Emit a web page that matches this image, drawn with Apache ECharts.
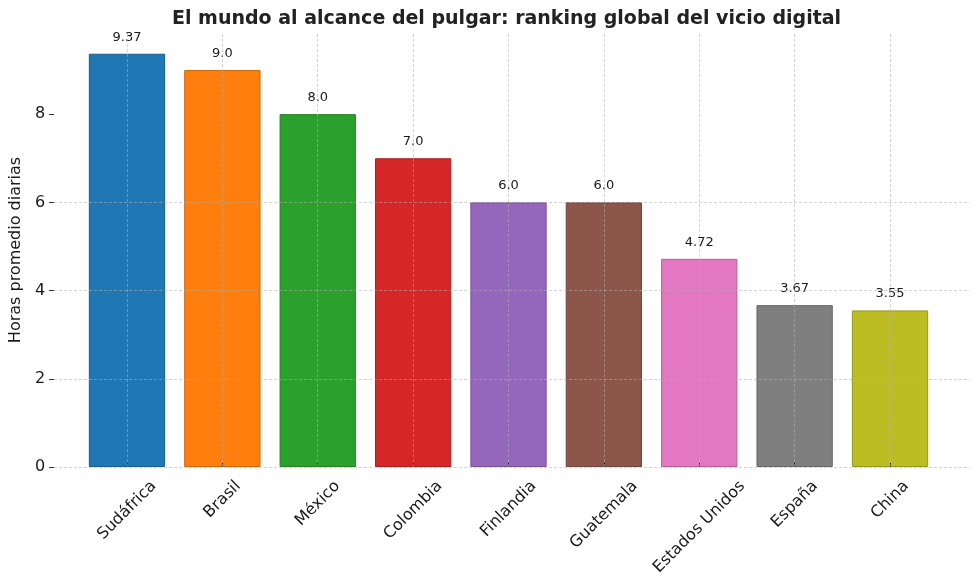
<!DOCTYPE html>
<html>
<head>
<meta charset="utf-8">
<script src="https://cdn.jsdelivr.net/npm/echarts@6/dist/echarts.min.js"></script>
<style>
  html, body { margin: 0; padding: 0; background: #fff; }
  #main { width: 980px; height: 584px; }
</style>
</head>
<body>
<div id="main"></div>
<script>
  var paises = ['Sudáfrica', 'Brasil', 'México', 'Colombia', 'Finlandia', 'Guatemala', 'Estados Unidos', 'España', 'China'];
  var horas = [9.37, 9.0, 8.0, 7.0, 6.0, 6.0, 4.72, 3.67, 3.55];
  var colores = ['#1f77b4', '#ff7f0e', '#2ca02c', '#d62728', '#9467bd', '#8c564b', '#e377c2', '#7f7f7f', '#bcbd22'];
  var yTicks = [0, 2, 4, 6, 8];
  var yMax = 9.84;

  var fuente = 'DejaVu Sans';
  var gridColor = 'rgba(176,176,176,0.7)';

  // borde un poco mas oscuro que el relleno
  function oscuro(hex) {
    var n = parseInt(hex.slice(1), 16);
    var r = Math.round(((n >> 16) & 255) * 0.8), g = Math.round(((n >> 8) & 255) * 0.8), b = Math.round((n & 255) * 0.8);
    return 'rgb(' + r + ',' + g + ',' + b + ')';
  }

  // matplotlib centra la etiqueta girada bajo la marca: se desplaza cada una segun su largo
  var ctx = document.createElement('canvas').getContext('2d');
  ctx.font = '16px "' + fuente + '"';
  var rich = {};
  paises.forEach(function (p, i) {
    var pad = (ctx.measureText(p).width + 19) / 2;
    rich['l' + i] = {padding: [pad, pad, 0, 0], lineHeight: 19, fontSize: 16, fontFamily: fuente, color: '#1a1a1a'};
  });

  function fmt(v) {
    return Number.isInteger(v) ? v.toFixed(1) : String(v);
  }

  var chart = echarts.init(document.getElementById('main'));
  chart.setOption({
    animation: false,
    title: {
      text: 'El mundo al alcance del pulgar: ranking global del vicio digital',
      left: 167, top: 5,
      textStyle: {fontFamily: fuente, fontSize: 19, fontWeight: 'bold', color: '#222'}
    },
    grid: [
      {left: 79.3, right: 42.3, top: 33, bottom: 117},
      {left: 51, right: 10, top: 33, bottom: 117}
    ],
    xAxis: [{
      type: 'category', gridIndex: 0, data: paises, z: 3,
      axisLine: {show: false},
      axisTick: {show: true, alignWithLabel: true, inside: true, length: 4, lineStyle: {color: '#111', width: 1}},
      splitLine: {show: false},
      axisLabel: {
        interval: 0, rotate: 45, align: 'center', verticalAlign: 'middle', margin: 10,
        fontFamily: fuente, fontSize: 16, color: '#1a1a1a',
        formatter: function (v, i) { return '{l' + i + '|' + v + '}'; },
        rich: rich
      }
    }, {
      type: 'value', gridIndex: 1, show: false
    }],
    yAxis: [{
      type: 'value', gridIndex: 0, min: 0, max: yMax, show: false
    }, {
      type: 'value', gridIndex: 1, min: 0, max: yMax, z: 3,
      name: 'Horas promedio diarias', nameLocation: 'middle', nameGap: 23,
      nameTextStyle: {fontFamily: fuente, fontSize: 16, color: '#1a1a1a'},
      axisLine: {show: false},
      axisTick: {show: true, length: 5, customValues: yTicks, lineStyle: {color: '#333', width: 1}},
      axisLabel: {customValues: yTicks, margin: 9, fontFamily: fuente, fontSize: 16, color: '#1a1a1a'},
      splitLine: {show: true, showMaxLine: false, lineStyle: {color: gridColor, type: [3, 2], width: 0.8}}
    }],
    series: [{
      type: 'bar', xAxisIndex: 0, yAxisIndex: 0,
      barWidth: '80%',
      data: horas.map(function (v, i) {
        return {value: v, itemStyle: {color: colores[i], borderColor: oscuro(colores[i])}};
      }),
      itemStyle: {borderWidth: 1},
      label: {
        show: true, position: 'top', distance: 10,
        fontFamily: fuente, fontSize: 13, color: '#1a1a1a',
        formatter: function (p) { return fmt(p.value); }
      },
      markLine: {
        silent: true, symbol: 'none', z: 4,
        label: {show: false},
        lineStyle: {color: gridColor, type: [3, 2], width: 0.8},
        data: paises.map(function (p) { return {xAxis: p}; })
      }
    }]
  });
</script>
</body>
</html>
